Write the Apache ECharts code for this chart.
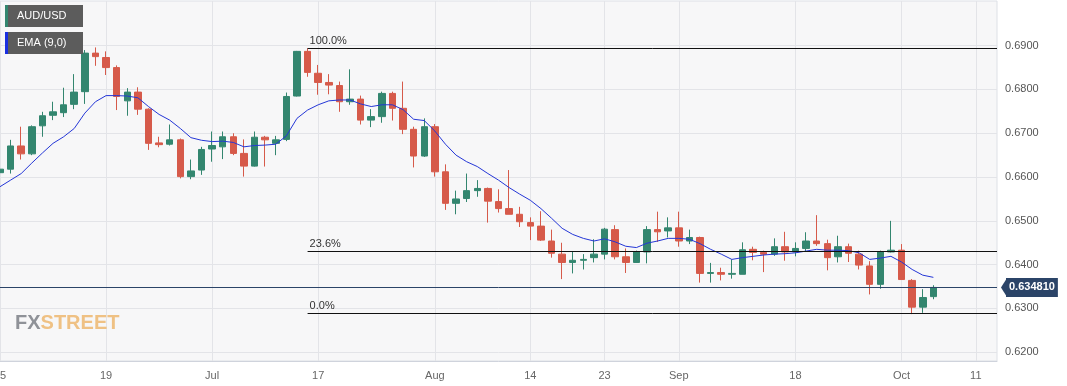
<!DOCTYPE html>
<html>
<head>
<meta charset="utf-8">
<script src="https://cdn.jsdelivr.net/npm/echarts@6/dist/echarts.min.js"></script>
<style>
html,body{margin:0;padding:0;background:#fff;}
#chart{width:1067px;height:386px;}
</style>
</head>
<body>
<div id="chart"></div>
<script>
// Trading days shown on the axis (2023)
var categories = [
'2023-06-05','2023-06-06','2023-06-07','2023-06-08','2023-06-09','2023-06-12','2023-06-13','2023-06-14','2023-06-15','2023-06-16',
'2023-06-19','2023-06-20','2023-06-21','2023-06-22','2023-06-23','2023-06-26','2023-06-27','2023-06-28','2023-06-29','2023-06-30',
'2023-07-03','2023-07-04','2023-07-05','2023-07-06','2023-07-07','2023-07-10','2023-07-11','2023-07-12','2023-07-13','2023-07-14',
'2023-07-17','2023-07-18','2023-07-19','2023-07-20','2023-07-21','2023-07-24','2023-07-25','2023-07-26','2023-07-27','2023-07-28','2023-07-31',
'2023-08-01','2023-08-02','2023-08-03','2023-08-04','2023-08-07','2023-08-08','2023-08-09','2023-08-10','2023-08-11',
'2023-08-14','2023-08-15','2023-08-16','2023-08-17','2023-08-18','2023-08-21','2023-08-22','2023-08-23','2023-08-24','2023-08-25',
'2023-08-28','2023-08-29','2023-08-30','2023-08-31',
'2023-09-01','2023-09-04','2023-09-05','2023-09-06','2023-09-07','2023-09-08','2023-09-11','2023-09-12','2023-09-13','2023-09-14','2023-09-15',
'2023-09-18','2023-09-19','2023-09-20','2023-09-21','2023-09-22','2023-09-25','2023-09-26','2023-09-27','2023-09-28','2023-09-29',
'2023-10-02','2023-10-03','2023-10-04','2023-10-05','2023-10-06','2023-10-09','2023-10-10','2023-10-11','2023-10-12','2023-10-13'
];

// x-axis tick labels
var tickDates = ['2023-06-05','2023-06-19','2023-07-03','2023-07-17','2023-08-01','2023-08-14','2023-08-23','2023-09-01','2023-09-18','2023-10-02','2023-10-11'];
var tickTexts = ['5','19','Jul','17','Aug','14','23','Sep','18','Oct','11'];

// y-axis tick labels
var yTicks = [0.62, 0.63, 0.64, 0.65, 0.66, 0.67, 0.68, 0.69];

// OHLC: open, close, low, high
var opens = [0.6610,0.6618,0.6671,0.6653,0.6717,0.6741,0.6747,0.6766,0.6795,0.6883,
0.6873,0.6850,0.6774,0.6794,0.6755,0.6678,0.6675,0.6685,0.6601,0.6616,
0.6664,0.6669,0.6692,0.6654,0.6625,0.6691,0.6677,0.6686,0.6785,0.6887,
0.6837,0.6816,0.6809,0.6772,0.6778,0.6730,0.6738,0.6791,0.6757,0.6709,0.6648,
0.6715,0.6612,0.6540,0.6551,0.6569,0.6574,0.6544,0.6528,0.6515,
0.6496,0.6488,0.6454,0.6424,0.6405,0.6410,0.6416,0.6424,0.6480,0.6418,
0.6405,0.6429,0.6480,0.6477,
0.6484,0.6454,0.6462,0.6380,0.6382,0.6378,0.6378,0.6435,0.6428,0.6424,0.6441,
0.6429,0.6437,0.6454,0.6448,0.6418,0.6441,0.6424,0.6397,0.6355,0.6429,
0.6433,0.6364,0.6303,0.6327];
var closes = [0.6618,0.6671,0.6653,0.6715,0.6740,0.6749,0.6765,0.6794,0.6883,0.6875,
0.6850,0.6784,0.6794,0.6755,0.6677,0.6674,0.6685,0.6601,0.6614,0.6663,
0.6672,0.6692,0.6654,0.6625,0.6691,0.6685,0.6685,0.6784,0.6887,0.6839,
0.6816,0.6810,0.6772,0.6778,0.6730,0.6738,0.6791,0.6757,0.6709,0.6648,0.6715,
0.6612,0.6540,0.6550,0.6569,0.6574,0.6545,0.6528,0.6515,0.6498,
0.6488,0.6456,0.6426,0.6405,0.6410,0.6412,0.6424,0.6481,0.6418,0.6405,
0.6429,0.6480,0.6475,0.6484,
0.6454,0.6462,0.6380,0.6382,0.6378,0.6380,0.6434,0.6428,0.6424,0.6441,0.6429,
0.6437,0.6454,0.6448,0.6416,0.6441,0.6426,0.6399,0.6355,0.6429,0.6433,
0.6366,0.6303,0.6325,0.6348];
var lows = [0.6609,0.6608,0.6640,0.6650,0.6692,0.6730,0.6737,0.6755,0.6767,0.6854,
0.6833,0.6753,0.6740,0.6742,0.6662,0.6668,0.6672,0.6597,0.6595,0.6605,
0.6635,0.6641,0.6650,0.6601,0.6624,0.6624,0.6650,0.6682,0.6784,0.6829,
0.6788,0.6789,0.6749,0.6765,0.6720,0.6714,0.6724,0.6729,0.6698,0.6622,0.6646,
0.6601,0.6525,0.6515,0.6543,0.6555,0.6496,0.6519,0.6515,0.6486,
0.6456,0.6454,0.6416,0.6367,0.6380,0.6389,0.6405,0.6412,0.6412,0.6381,
0.6404,0.6403,0.6452,0.6462,
0.6441,0.6447,0.6359,0.6359,0.6364,0.6368,0.6378,0.6410,0.6383,0.6420,0.6409,
0.6419,0.6430,0.6443,0.6387,0.6405,0.6406,0.6389,0.6332,0.6345,0.6428,
0.6366,0.6287,0.6290,0.6321];
var highs = [0.6639,0.6685,0.6715,0.6718,0.6749,0.6772,0.6804,0.6835,0.6890,0.6896,
0.6887,0.6855,0.6803,0.6805,0.6757,0.6692,0.6720,0.6688,0.6640,0.6669,
0.6704,0.6704,0.6700,0.6686,0.6704,0.6694,0.6694,0.6793,0.6888,0.6894,
0.6856,0.6835,0.6818,0.6846,0.6786,0.6755,0.6795,0.6795,0.6818,0.6715,0.6734,
0.6721,0.6629,0.6569,0.6608,0.6593,0.6576,0.6572,0.6616,0.6532,
0.6508,0.6522,0.6480,0.6450,0.6429,0.6424,0.6458,0.6484,0.6490,0.6437,
0.6432,0.6488,0.6521,0.6508,
0.6521,0.6480,0.6464,0.6404,0.6393,0.6412,0.6451,0.6441,0.6432,0.6460,0.6475,
0.6451,0.6474,0.6513,0.6457,0.6466,0.6448,0.6432,0.6408,0.6432,0.6500,
0.6447,0.6367,0.6344,0.6353];

// EMA (9)
var ema = [0.6578,0.6593,0.6608,0.6632,0.6655,0.6677,0.6692,0.6711,0.6746,0.6772,
0.6786,0.6786,0.6785,0.6781,0.6761,0.6743,0.6730,0.6711,0.6690,0.6684,
0.6681,0.6682,0.6679,0.6669,0.6672,0.6673,0.6675,0.6694,0.6734,0.6753,
0.6765,0.6774,0.6776,0.6776,0.6767,0.6761,0.6765,0.6765,0.6754,0.6732,0.6729,
0.6705,0.6675,0.6650,0.6635,0.6624,0.6608,0.6593,0.6576,0.6561,
0.6547,0.6528,0.6506,0.6483,0.6469,0.6460,0.6454,0.6459,0.6452,0.6442,
0.6439,0.6449,0.6454,0.6460,
0.6460,0.6458,0.6448,0.6435,0.6424,0.6412,0.6416,0.6419,0.6422,0.6424,0.6425,
0.6427,0.6431,0.6435,0.6433,0.6433,0.6432,0.6427,0.6412,0.6415,0.6419,
0.6406,0.6389,0.6376,0.6371];

// Fibonacci retracement
var fibStart = '2023-07-14';
var fibLevels = [0.6894, 0.6430, 0.6288];
var fibTexts = ['100.0%', '23.6%', '0.0%'];

var lastPrice = 0.634810;
var lastPriceText = '0.634810';

var seriesName = 'AUD/USD';
var emaName = 'EMA (9,0)';

// ---------- build ----------
var ohlc = opens.map(function (o, i) { return [o, closes[i], lows[i], highs[i]]; });
var tickMap = {};
tickDates.forEach(function (d, i) { tickMap[d] = tickTexts[i]; });
var firstCat = categories[0];
var lastCat = categories[categories.length - 1];

var fibLines = fibLevels.map(function (v, i) {
  return [
    { coord: [fibStart, v], label: { formatter: fibTexts[i] } },
    { coord: [lastCat, v] }
  ];
});

var TAG = '#2b4468';
var priceLine = [
  { coord: [firstCat, lastPrice], lineStyle: { color: TAG, width: 1, type: 'solid' } },
  {
    coord: [lastCat, lastPrice],
    label: {
      show: true, position: 'end', formatter: lastPriceText,
      backgroundColor: TAG, color: '#fff', fontWeight: 'bold',
      fontSize: 11, padding: [4, 3, 4, 3], distance: 9
    }
  }
];

var GREEN = '#33866f', RED = '#d65a4a';
var FONT = 'Liberation Sans, Arial, sans-serif';

var chart = echarts.init(document.getElementById('chart'), null, { renderer: 'canvas' });
chart.setOption({
  animation: false,
  backgroundColor: '#ffffff',
  textStyle: { fontFamily: FONT },
  grid: {
    left: 0, right: 70, top: 1, bottom: 25,
    outerBoundsMode: 'none',
    containLabel: false,
    show: true, backgroundColor: '#f7f7f8', borderColor: '#dde0e6', borderWidth: 1
  },
  xAxis: {
    type: 'category',
    data: categories,
    boundaryGap: false,
    axisLine: { show: true, lineStyle: { color: '#cfd3dc' } },
    axisTick: { show: false },
    axisLabel: {
      interval: function (idx, val) { return tickMap[val] !== undefined; },
      formatter: function (val) { return tickMap[val] || ''; },
      color: '#666', fontSize: 11, fontFamily: FONT, margin: 9,
      showMinLabel: true, showMaxLabel: true, hideOverlap: false,
      alignMinLabel: 'left'
    },
    splitLine: {
      show: true,
      interval: function (idx, val) { return tickMap[val] !== undefined; },
      lineStyle: { color: '#e3e4e8', width: 1 }
    }
  },
  yAxis: {
    type: 'value',
    position: 'right',
    min: 0.6180, max: 0.7002,
    scale: true,
    axisLine: { show: false },
    axisTick: { show: false, customValues: yTicks },
    axisLabel: {
      customValues: yTicks,
      formatter: function (v) { return v.toFixed(4); },
      color: '#555', fontSize: 11, fontFamily: FONT, margin: 8
    },
    splitLine: { show: true, lineStyle: { color: '#e3e4e8', width: 1 } }
  },
  series: [
    {
      name: seriesName,
      type: 'candlestick',
      data: ohlc,
      barWidth: 7,
      itemStyle: { color: GREEN, color0: RED, borderColor: GREEN, borderColor0: RED, borderWidth: 1 },
      markLine: {
        silent: true,
        symbol: ['none', 'none'],
        animation: false,
        data: fibLines.concat([priceLine]),
        lineStyle: { color: '#111', width: 1, type: 'solid' },
        label: {
          show: true, position: 'insideStartTop', color: '#333',
          fontSize: 11, fontFamily: FONT, distance: 2
        }
      },
      markPoint: {
        silent: true,
        animation: false,
        data: [{
          coord: [lastCat, lastPrice],
          symbol: 'path://M0,5 L6,0 L6,10 Z',
          symbolSize: [6, 19],
          symbolOffset: [7, 0],
          itemStyle: { color: TAG },
          label: { show: false }
        }]
      }
    },
    {
      name: emaName,
      type: 'line',
      data: ema,
      symbol: 'none',
      lineStyle: { color: '#2436d6', width: 1 },
      itemStyle: { color: '#2436d6' }
    }
  ],
  graphic: [
    { type: 'rect', left: 5, top: 5, shape: { width: 78, height: 22 }, style: { fill: '#5c5c5c' }, z: 100 },
    { type: 'rect', left: 5, top: 5, shape: { width: 3, height: 22 }, style: { fill: GREEN }, z: 101 },
    { type: 'text', left: 17, top: 10, style: { text: seriesName, fill: '#fff', font: '11px ' + FONT }, z: 102 },
    { type: 'rect', left: 5, top: 32, shape: { width: 78, height: 22 }, style: { fill: '#5c5c5c' }, z: 100 },
    { type: 'rect', left: 5, top: 32, shape: { width: 3, height: 22 }, style: { fill: '#1a2fe0' }, z: 101 },
    { type: 'text', left: 17, top: 37, style: { text: emaName, fill: '#fff', font: '11px ' + FONT }, z: 102 },
    {
      type: 'text', left: 15, top: 313, z: 1,
      style: {
        text: '{a|FX}{b|STREET}',
        rich: {
          a: { fill: '#8f9298', font: 'bold 20px ' + FONT },
          b: { fill: '#efc184', font: 'bold 20px ' + FONT }
        }
      }
    }
  ]
});
</script>
</body>
</html>
